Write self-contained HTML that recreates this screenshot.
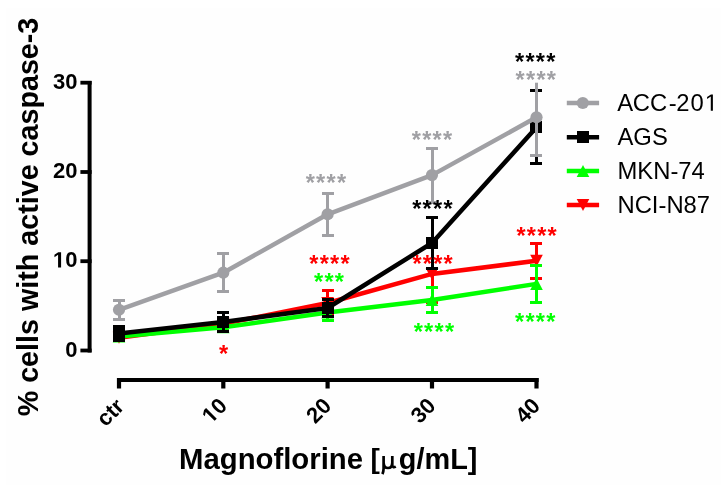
<!DOCTYPE html>
<html><head><meta charset="utf-8"><style>
html,body{margin:0;padding:0;background:#fff;}
svg{display:block;will-change:transform;}
text{font-family:"Liberation Sans",sans-serif;}
</style></head><body>
<svg width="721" height="491" viewBox="0 0 721 491">
<rect width="721" height="491" fill="#fff"/>
<rect x="6" y="8" width="715" height="477" fill="#fefefe"/>
<path d="M89.6 81V352.6" stroke="#000" stroke-width="4"/>
<path d="M80.4 350.5H91.6" stroke="#000" stroke-width="3.8"/>
<path d="M80.4 261.2H91.6" stroke="#000" stroke-width="3.8"/>
<path d="M80.4 172.0H91.6" stroke="#000" stroke-width="3.8"/>
<path d="M80.4 82.7H91.6" stroke="#000" stroke-width="3.8"/>
<path d="M117 380H538.6" stroke="#000" stroke-width="4"/>
<path d="M119.0 378V388.5" stroke="#000" stroke-width="4.2"/>
<path d="M223.3 378V388.5" stroke="#000" stroke-width="4.2"/>
<path d="M327.6 378V388.5" stroke="#000" stroke-width="4.2"/>
<path d="M432.0 378V388.5" stroke="#000" stroke-width="4.2"/>
<path d="M536.5 378V388.5" stroke="#000" stroke-width="4.2"/>
<text x="77.4" y="356.7" text-anchor="end" font-size="22" font-weight="bold">0</text>
<path transform="translate(52.94 267.43) scale(0.01074 -0.01074)" d="M478 0L759 0L759 1409L493 1409L140 1180L140 959L478 1170Z" fill="#000"/>
<text x="77.4" y="267.4" text-anchor="end" font-size="22" font-weight="bold">0</text>
<text x="77.4" y="178.2" text-anchor="end" font-size="22" font-weight="bold">20</text>
<text x="77.4" y="88.9" text-anchor="end" font-size="22" font-weight="bold">30</text>
<text transform="translate(125.4 407.7) rotate(-45)" x="0" y="0" text-anchor="end" font-size="22" font-weight="bold">ctr</text>
<g transform="translate(228.3 407.2) rotate(-45)"><path transform="translate(-24.46 0.00) scale(0.01074 -0.01074)" d="M478 0L759 0L759 1409L493 1409L140 1180L140 959L478 1170Z" fill="#000"/><text x="0" y="0" text-anchor="end" font-size="22" font-weight="bold">0</text></g>
<text transform="translate(332.6 407.2) rotate(-45)" x="0" y="0" text-anchor="end" font-size="22" font-weight="bold">20</text>
<text transform="translate(437.0 407.2) rotate(-45)" x="0" y="0" text-anchor="end" font-size="22" font-weight="bold">30</text>
<text transform="translate(541.5 407.2) rotate(-45)" x="0" y="0" text-anchor="end" font-size="22" font-weight="bold">40</text>
<text transform="translate(37.8 217) rotate(-90)" x="0" y="0" text-anchor="middle" font-size="28.7" font-weight="bold">% cells with active caspase-3</text>
<text x="179.1" y="469.3" font-size="29.3" font-weight="bold">Magnoflorine</text>
<text x="370.6" y="468.3" font-size="28" font-weight="bold">[</text>
<text x="398.8" y="469.2" font-size="28.9" font-weight="bold">g/mL]</text>
<path d="M383.6 456V468.5Q383.5 472 382.4 474.2M383.6 462.5Q383.8 468 388 468Q392.2 468 392.3 462.5M392.3 456V465Q392.5 468.3 395.8 466.6" fill="none" stroke="#000" stroke-width="2.7"/>
<path d="M119.5 334.8V340.8" stroke="#FF0000" stroke-width="3.0"/>
<path d="M113 334.5H125" stroke="#FF0000" stroke-width="3.0"/>
<path d="M113 340.5H125" stroke="#FF0000" stroke-width="3.0"/>
<path d="M223.5 320.8V326.8" stroke="#FF0000" stroke-width="3.0"/>
<path d="M217 320.5H229" stroke="#FF0000" stroke-width="3.0"/>
<path d="M217 326.5H229" stroke="#FF0000" stroke-width="3.0"/>
<path d="M327.5 290.7V315.3" stroke="#FF0000" stroke-width="3.0"/>
<path d="M322 290.5H334" stroke="#FF0000" stroke-width="3.0"/>
<path d="M322 315.5H334" stroke="#FF0000" stroke-width="3.0"/>
<path d="M432.5 245.7V302.1" stroke="#FF0000" stroke-width="3.0"/>
<path d="M426 245.5H438" stroke="#FF0000" stroke-width="3.0"/>
<path d="M426 302.5H438" stroke="#FF0000" stroke-width="3.0"/>
<path d="M536.5 243.3V278.3" stroke="#FF0000" stroke-width="3.0"/>
<path d="M530 243.5H542" stroke="#FF0000" stroke-width="3.0"/>
<path d="M530 278.5H542" stroke="#FF0000" stroke-width="3.0"/>
<polyline points="119.0,337.8 223.3,323.8 327.6,303.0 432.0,273.9 536.5,260.8" fill="none" stroke="#FF0000" stroke-width="4.5" stroke-linejoin="round"/>
<path d="M119.0 343.8L125.3 331.8L112.7 331.8Z" fill="#FF0000"/>
<path d="M223.3 329.8L229.6 317.8L217.0 317.8Z" fill="#FF0000"/>
<path d="M327.6 309.0L333.9 297.0L321.3 297.0Z" fill="#FF0000"/>
<path d="M432.0 279.9L438.3 267.9L425.7 267.9Z" fill="#FF0000"/>
<path d="M536.5 266.8L542.8 254.8L530.2 254.8Z" fill="#FF0000"/>
<path d="M119.5 333.6V339.6" stroke="#00FF00" stroke-width="3.0"/>
<path d="M113 333.5H125" stroke="#00FF00" stroke-width="3.0"/>
<path d="M113 339.5H125" stroke="#00FF00" stroke-width="3.0"/>
<path d="M223.5 324.3V330.3" stroke="#00FF00" stroke-width="3.0"/>
<path d="M217 324.5H229" stroke="#00FF00" stroke-width="3.0"/>
<path d="M217 330.5H229" stroke="#00FF00" stroke-width="3.0"/>
<path d="M327.5 305.2V320.0" stroke="#00FF00" stroke-width="3.0"/>
<path d="M322 305.5H334" stroke="#00FF00" stroke-width="3.0"/>
<path d="M322 320.5H334" stroke="#00FF00" stroke-width="3.0"/>
<path d="M432.5 287.8V312.2" stroke="#00FF00" stroke-width="3.0"/>
<path d="M426 287.5H438" stroke="#00FF00" stroke-width="3.0"/>
<path d="M426 312.5H438" stroke="#00FF00" stroke-width="3.0"/>
<path d="M536.5 265.5V302.3" stroke="#00FF00" stroke-width="3.0"/>
<path d="M530 265.5H542" stroke="#00FF00" stroke-width="3.0"/>
<path d="M530 302.5H542" stroke="#00FF00" stroke-width="3.0"/>
<polyline points="119.0,336.6 223.3,327.3 327.6,312.6 432.0,300.0 536.5,283.9" fill="none" stroke="#00FF00" stroke-width="4.5" stroke-linejoin="round"/>
<path d="M119.0 330.6L125.3 342.6L112.7 342.6Z" fill="#00FF00"/>
<path d="M223.3 321.3L229.6 333.3L217.0 333.3Z" fill="#00FF00"/>
<path d="M327.6 306.6L333.9 318.6L321.3 318.6Z" fill="#00FF00"/>
<path d="M432.0 294.0L438.3 306.0L425.7 306.0Z" fill="#00FF00"/>
<path d="M536.5 277.9L542.8 289.9L530.2 289.9Z" fill="#00FF00"/>
<path d="M119.5 326.1V340.9" stroke="#000000" stroke-width="3.0"/>
<path d="M113 326.5H125" stroke="#000000" stroke-width="3.0"/>
<path d="M113 340.5H125" stroke="#000000" stroke-width="3.0"/>
<path d="M223.5 312.7V331.3" stroke="#000000" stroke-width="3.0"/>
<path d="M217 312.5H229" stroke="#000000" stroke-width="3.0"/>
<path d="M217 331.5H229" stroke="#000000" stroke-width="3.0"/>
<path d="M327.5 299.6V316.4" stroke="#000000" stroke-width="3.0"/>
<path d="M322 299.5H334" stroke="#000000" stroke-width="3.0"/>
<path d="M322 316.5H334" stroke="#000000" stroke-width="3.0"/>
<path d="M432.5 217.4V268.6" stroke="#000000" stroke-width="3.0"/>
<path d="M426 217.5H438" stroke="#000000" stroke-width="3.0"/>
<path d="M426 268.5H438" stroke="#000000" stroke-width="3.0"/>
<path d="M536.5 90.7V163.9" stroke="#000000" stroke-width="3.0"/>
<path d="M530 90.5H542" stroke="#000000" stroke-width="3.0"/>
<path d="M530 163.5H542" stroke="#000000" stroke-width="3.0"/>
<polyline points="119.0,333.5 223.3,322.0 327.6,308.0 432.0,243.0 536.5,127.3" fill="none" stroke="#000000" stroke-width="4.5" stroke-linejoin="round"/>
<rect x="113" y="328" width="12" height="12" fill="#000000"/>
<rect x="217" y="316" width="12" height="12" fill="#000000"/>
<rect x="322" y="302" width="12" height="12" fill="#000000"/>
<rect x="426" y="237" width="12" height="12" fill="#000000"/>
<rect x="530" y="121" width="12" height="12" fill="#000000"/>
<path d="M119.5 300.6V319.0" stroke="#A0A0A4" stroke-width="3.0"/>
<path d="M113 300.5H125" stroke="#A0A0A4" stroke-width="3.0"/>
<path d="M113 319.5H125" stroke="#A0A0A4" stroke-width="3.0"/>
<path d="M223.5 253.8V291.6" stroke="#A0A0A4" stroke-width="3.0"/>
<path d="M217 253.5H229" stroke="#A0A0A4" stroke-width="3.0"/>
<path d="M217 291.5H229" stroke="#A0A0A4" stroke-width="3.0"/>
<path d="M327.5 193.3V235.3" stroke="#A0A0A4" stroke-width="3.0"/>
<path d="M322 193.5H334" stroke="#A0A0A4" stroke-width="3.0"/>
<path d="M322 235.5H334" stroke="#A0A0A4" stroke-width="3.0"/>
<path d="M432.5 148.1V202.1" stroke="#A0A0A4" stroke-width="3.0"/>
<path d="M426 148.5H438" stroke="#A0A0A4" stroke-width="3.0"/>
<path d="M426 202.5H438" stroke="#A0A0A4" stroke-width="3.0"/>
<path d="M536.5 82.7V155.3" stroke="#A0A0A4" stroke-width="3.0"/>
<path d="M530 155.5H542" stroke="#A0A0A4" stroke-width="3.0"/>
<polyline points="119.0,309.8 223.3,272.7 327.6,214.3 432.0,175.1 536.5,117.3" fill="none" stroke="#A0A0A4" stroke-width="4.5" stroke-linejoin="round"/>
<circle cx="119.0" cy="309.8" r="6.1" fill="#A0A0A4"/>
<circle cx="223.3" cy="272.7" r="6.1" fill="#A0A0A4"/>
<circle cx="327.6" cy="214.3" r="6.1" fill="#A0A0A4"/>
<circle cx="432.0" cy="175.1" r="6.1" fill="#A0A0A4"/>
<circle cx="536.5" cy="117.3" r="6.1" fill="#A0A0A4"/>
<text x="326.5" y="191.2" fill="#A0A0A4" text-anchor="middle" font-size="23.5" letter-spacing="1.26" font-weight="bold">****</text>
<text x="432.6" y="147.6" fill="#A0A0A4" text-anchor="middle" font-size="23.5" letter-spacing="1.26" font-weight="bold">****</text>
<text x="536.4" y="88.1" fill="#A0A0A4" text-anchor="middle" font-size="23.5" letter-spacing="1.26" font-weight="bold">****</text>
<text x="433.0" y="217.4" fill="#000000" text-anchor="middle" font-size="23.5" letter-spacing="1.26" font-weight="bold">****</text>
<text x="535.8" y="70.4" fill="#000000" text-anchor="middle" font-size="23.5" letter-spacing="1.26" font-weight="bold">****</text>
<text x="330.1" y="272.2" fill="#FF0000" text-anchor="middle" font-size="23.5" letter-spacing="1.26" font-weight="bold">****</text>
<text x="433.2" y="272.2" fill="#FF0000" text-anchor="middle" font-size="23.5" letter-spacing="1.26" font-weight="bold">****</text>
<text x="537.2" y="244.2" fill="#FF0000" text-anchor="middle" font-size="23.5" letter-spacing="1.26" font-weight="bold">****</text>
<text x="224.1" y="361.7" fill="#FF0000" text-anchor="middle" font-size="23.5" letter-spacing="1.26" font-weight="bold">*</text>
<text x="329.6" y="290.2" fill="#00FF00" text-anchor="middle" font-size="23.5" letter-spacing="1.26" font-weight="bold">***</text>
<text x="434.5" y="340.3" fill="#00FF00" text-anchor="middle" font-size="23.5" letter-spacing="1.26" font-weight="bold">****</text>
<text x="535.8" y="330.0" fill="#00FF00" text-anchor="middle" font-size="23.5" letter-spacing="1.26" font-weight="bold">****</text>
<g>
<path d="M566.8 103H599.1" stroke="#A0A0A4" stroke-width="4.5"/><circle cx="582.8" cy="103.0" r="6.1" fill="#A0A0A4"/>
<path d="M566.8 137.2H599.1" stroke="#000000" stroke-width="4.5"/><rect x="577" y="131" width="12" height="12" fill="#000000"/>
<path d="M566.8 171H599.1" stroke="#00FF00" stroke-width="4.5"/><path d="M583.0 165.0L589.3 177.0L576.7 177.0Z" fill="#00FF00"/>
<path d="M566.8 205H599.1" stroke="#FF0000" stroke-width="4.5"/><path d="M583.0 211.0L589.3 199.0L576.7 199.0Z" fill="#FF0000"/>
<text x="617.3 632.7 649.9 668.8 676.3 690.4" y="110.8" font-size="23.8">ACC-20</text><path transform="translate(704.80 110.80) scale(0.01162 -0.01162)" d="M515 0L696 0L696 1409L530 1409L197 1180L197 1010L515 1237Z" fill="#000"/>
<text x="617.5" y="144.8" font-size="23.8">AGS</text>
<text x="617.5" y="178.8" font-size="23.8">MKN-74</text>
<text x="617.5" y="212.8" font-size="23.8">NCI-N87</text>
</g>
</svg>
</body></html>
